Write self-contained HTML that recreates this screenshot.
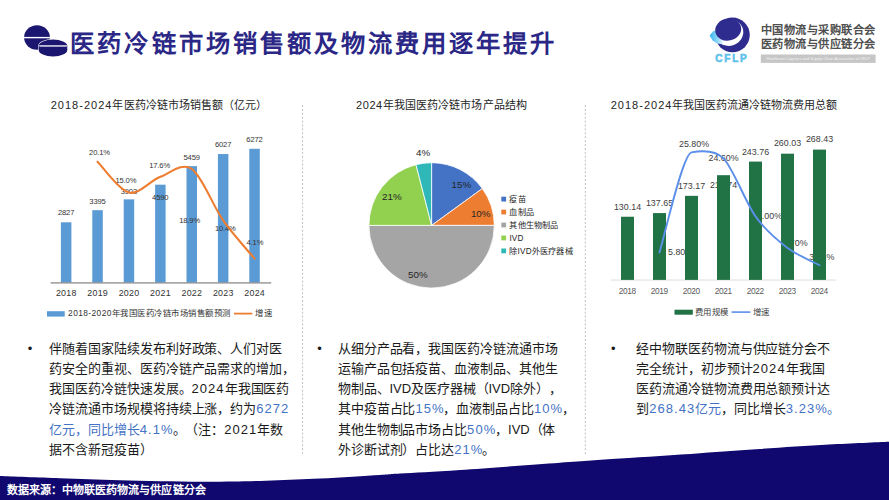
<!DOCTYPE html>
<html lang="zh-CN">
<head>
<meta charset="utf-8">
<title>医药冷链市场销售额及物流费用逐年提升</title>
<style>
html,body{margin:0;padding:0;}
body{width:889px;height:500px;position:relative;overflow:hidden;background:#ffffff;font-family:"Liberation Sans", sans-serif;text-spacing-trim:space-all;font-kerning:none;}
.t{position:absolute;white-space:nowrap;margin:0;padding:0;}
svg{position:absolute;left:0;top:0;}
.hl{color:#4472C4;}
.n{letter-spacing:1.05px;}
</style>
</head>
<body>

<svg width="889" height="500" viewBox="0 0 889 500">
<defs><linearGradient id="tail" x1="0" y1="0" x2="1" y2="0"><stop offset="0" stop-color="#35B6EE"/><stop offset="0.55" stop-color="#8ED6F6"/><stop offset="1" stop-color="#ffffff"/></linearGradient></defs>
<path d="M0.00 476.00 C10.00 476.37 40.00 477.50 60.00 478.20 C80.00 478.90 96.67 479.62 120.00 480.20 C143.33 480.78 176.67 481.58 200.00 481.70 C223.33 481.82 240.00 481.42 260.00 480.90 C280.00 480.38 300.00 479.58 320.00 478.60 C340.00 477.62 366.67 475.83 380.00 475.00 C393.33 474.17 386.67 474.43 400.00 473.60 C413.33 472.77 433.33 471.80 460.00 470.00 C486.67 468.20 533.33 464.70 560.00 462.80 C586.67 460.90 596.67 460.20 620.00 458.60 C643.33 457.00 676.67 454.80 700.00 453.20 C723.33 451.60 738.50 450.43 760.00 449.00 C781.50 447.57 807.50 445.80 829.00 444.60 C850.50 443.40 879.00 442.27 889.00 441.80 L889 500 L0 500 Z" fill="#10086F"/>
<line x1="302.6" y1="105" x2="302.6" y2="454" stroke="#BFBFBF" stroke-width="1" stroke-dasharray="2 1.9"/>
<line x1="585.3" y1="105" x2="585.3" y2="454" stroke="#BFBFBF" stroke-width="1" stroke-dasharray="2 1.9"/>
<ellipse cx="37" cy="37.5" rx="12.9" ry="12.2" fill="#1B1670"/>
<rect x="24" y="36.9" width="26" height="1.4" fill="#ffffff"/>
<path d="M38.2 45.9 A14.8 6.8 0 0 1 67.8 45.9 L67.8 50.1 A14.8 6.8 0 0 1 38.2 50.1 Z" fill="#ffffff"/>
<path d="M38.7 45.9 A14.3 6.3 0 0 1 67.3 45.9 L67.3 50.1 A14.3 6.3 0 0 1 38.7 50.1 Z" fill="#1B1670"/>
<rect x="39.3" y="45.3" width="27.6" height="1.3" fill="#ffffff"/>
<circle cx="732.5" cy="34.9" r="17.3" fill="#2F2C8F"/>
<ellipse cx="729.2" cy="32.6" rx="14.2" ry="13.2" fill="#ffffff" transform="rotate(-20 729.2 32.6)"/>
<path d="M709.6 35.6 L713.8 30.6 L722 34.5 L724 44.5 L717 43.6 L712.6 40.6 Z" fill="url(#tail)"/>
<ellipse cx="728.2" cy="29.6" rx="13.1" ry="11.0" fill="#2F2C8F" transform="rotate(-12 728.2 29.6)"/>
<rect x="760.8" y="54.5" width="114.8" height="8.4" fill="#C6C6C6"/>
<rect x="60.90" y="222.29" width="10.50" height="60.31" fill="#5B9BD5"/>
<rect x="92.30" y="210.17" width="10.50" height="72.43" fill="#5B9BD5"/>
<rect x="123.70" y="199.34" width="10.50" height="83.26" fill="#5B9BD5"/>
<rect x="155.10" y="184.68" width="10.50" height="97.92" fill="#5B9BD5"/>
<rect x="186.50" y="166.14" width="10.50" height="116.46" fill="#5B9BD5"/>
<rect x="217.90" y="154.03" width="10.50" height="128.57" fill="#5B9BD5"/>
<rect x="249.30" y="148.80" width="10.50" height="133.80" fill="#5B9BD5"/>
<rect x="50.6" y="282.25" width="220.6" height="1.3" fill="#8C8C8C"/>
<rect x="47" y="311.2" width="17.7" height="5.4" fill="#5B9BD5"/>
<line x1="234" y1="313.6" x2="252.3" y2="313.6" stroke="#ED7D31" stroke-width="1.8"/>
<path d="M431.60 225.40 L431.60 162.70 A62.70 62.70 0 0 1 482.33 188.55 Z" fill="#4472C4" stroke="#ffffff" stroke-width="0.8" stroke-linejoin="round"/>
<path d="M431.60 225.40 L482.33 188.55 A62.70 62.70 0 0 1 494.30 225.40 Z" fill="#ED7D31" stroke="#ffffff" stroke-width="0.8" stroke-linejoin="round"/>
<path d="M431.60 225.40 L494.30 225.40 A62.70 62.70 0 0 1 368.90 225.40 Z" fill="#A5A5A5" stroke="#ffffff" stroke-width="0.8" stroke-linejoin="round"/>
<path d="M431.60 225.40 L368.90 225.40 A62.70 62.70 0 0 1 416.01 164.67 Z" fill="#92D050" stroke="#ffffff" stroke-width="0.8" stroke-linejoin="round"/>
<path d="M431.60 225.40 L416.01 164.67 A62.70 62.70 0 0 1 431.60 162.70 Z" fill="#30B7B8" stroke="#ffffff" stroke-width="0.8" stroke-linejoin="round"/>
<rect x="501.3" y="196.70" width="4.8" height="4.8" fill="#4472C4"/>
<rect x="501.3" y="209.65" width="4.8" height="4.8" fill="#ED7D31"/>
<rect x="501.3" y="222.60" width="4.8" height="4.8" fill="#A5A5A5"/>
<rect x="501.3" y="235.55" width="4.8" height="4.8" fill="#92D050"/>
<rect x="501.3" y="248.50" width="4.8" height="4.8" fill="#30B7B8"/>
<rect x="611" y="279.6" width="225" height="0.9" fill="#D9D9D9"/>
<rect x="674.5" y="309.7" width="18.3" height="5" fill="#217346"/>
<line x1="731.6" y1="312.1" x2="750.4" y2="312.1" stroke="#5B8FEA" stroke-width="1.6"/>
</svg>
<div class="t" style="left:70.30px;top:28.41px;font-size:24.3px;line-height:31.59px;color:#2B2786;font-weight:bold;letter-spacing:3.07px;">医药冷链市场销售额及物流费用逐年提升</div>
<div class="t" style="left:760.80px;top:23.02px;font-size:11.2px;line-height:14.56px;color:#4F4F4F;font-weight:bold;letter-spacing:0.48px;">中国物流与采购联合会</div>
<div class="t" style="left:760.80px;top:36.52px;font-size:11.2px;line-height:14.56px;color:#4F4F4F;font-weight:bold;letter-spacing:0.48px;">医药物流与供应链分会</div>
<div class="t" style="left:818.20px;transform:translateX(-50%);top:56.17px;font-size:3.9px;line-height:5.07px;color:#f4f4f4;">Healthcare Logistics and Supply Chain Association of CFLP</div>
<div class="t" style="left:731.88px;transform:translateX(-50%);top:51.90px;font-size:10.0px;line-height:13.0px;color:#5CC1EC;font-weight:bold;letter-spacing:1.75px;-webkit-text-stroke:0.55px #5CC1EC;">CFLP</div>
<div class="t" style="left:50.70px;top:98.25px;font-size:11px;line-height:14.3px;color:#262626;letter-spacing:0.05px;"><span style="letter-spacing:1.02px">2018-2024</span>年医药冷链市场销售额（亿元）</div>
<div class="t" style="left:356.00px;top:98.05px;font-size:11px;line-height:14.3px;color:#262626;letter-spacing:0.08px;"><span style="letter-spacing:0.58px">2024</span>年我国医药冷链市场产品结构</div>
<div class="t" style="left:610.70px;top:98.05px;font-size:11px;line-height:14.3px;color:#262626;letter-spacing:-0.05px;"><span style="letter-spacing:1.02px">2018-2024</span>年我国医药流通冷链物流费用总额</div>
<div class="t" style="left:66.08px;transform:translateX(-50%);top:208.46px;font-size:7.6px;line-height:9.88px;color:#333333;letter-spacing:-0.15px;">2827</div>
<div class="t" style="left:97.48px;transform:translateX(-50%);top:196.56px;font-size:7.6px;line-height:9.88px;color:#333333;letter-spacing:-0.15px;">3395</div>
<div class="t" style="left:128.88px;transform:translateX(-50%);top:186.86px;font-size:7.6px;line-height:9.88px;color:#333333;letter-spacing:-0.15px;">3903</div>
<div class="t" style="left:160.28px;transform:translateX(-50%);top:192.76px;font-size:7.6px;line-height:9.88px;color:#333333;letter-spacing:-0.15px;">4590</div>
<div class="t" style="left:191.68px;transform:translateX(-50%);top:152.56px;font-size:7.6px;line-height:9.88px;color:#333333;letter-spacing:-0.15px;">5459</div>
<div class="t" style="left:223.08px;transform:translateX(-50%);top:139.66px;font-size:7.6px;line-height:9.88px;color:#333333;letter-spacing:-0.15px;">6027</div>
<div class="t" style="left:254.47px;transform:translateX(-50%);top:135.06px;font-size:7.6px;line-height:9.88px;color:#333333;letter-spacing:-0.15px;">6272</div>
<div class="t" style="left:99.52px;transform:translateX(-50%);top:148.06px;font-size:7.6px;line-height:9.88px;color:#333333;letter-spacing:-0.15px;">20.1%</div>
<div class="t" style="left:125.92px;transform:translateX(-50%);top:176.36px;font-size:7.6px;line-height:9.88px;color:#333333;letter-spacing:-0.15px;">15.0%</div>
<div class="t" style="left:159.62px;transform:translateX(-50%);top:160.96px;font-size:7.6px;line-height:9.88px;color:#333333;letter-spacing:-0.15px;">17.6%</div>
<div class="t" style="left:189.62px;transform:translateX(-50%);top:216.26px;font-size:7.6px;line-height:9.88px;color:#333333;letter-spacing:-0.15px;">18.9%</div>
<div class="t" style="left:225.33px;transform:translateX(-50%);top:224.36px;font-size:7.6px;line-height:9.88px;color:#333333;letter-spacing:-0.15px;">10.4%</div>
<div class="t" style="left:254.93px;transform:translateX(-50%);top:238.36px;font-size:7.6px;line-height:9.88px;color:#333333;letter-spacing:-0.15px;">4.1%</div>
<div class="t" style="left:66.28px;transform:translateX(-50%);top:288.21px;font-size:8.9px;line-height:11.57px;color:#333333;letter-spacing:0.25px;">2018</div>
<div class="t" style="left:97.68px;transform:translateX(-50%);top:288.21px;font-size:8.9px;line-height:11.57px;color:#333333;letter-spacing:0.25px;">2019</div>
<div class="t" style="left:129.07px;transform:translateX(-50%);top:288.21px;font-size:8.9px;line-height:11.57px;color:#333333;letter-spacing:0.25px;">2020</div>
<div class="t" style="left:160.47px;transform:translateX(-50%);top:288.21px;font-size:8.9px;line-height:11.57px;color:#333333;letter-spacing:0.25px;">2021</div>
<div class="t" style="left:191.88px;transform:translateX(-50%);top:288.21px;font-size:8.9px;line-height:11.57px;color:#333333;letter-spacing:0.25px;">2022</div>
<div class="t" style="left:223.28px;transform:translateX(-50%);top:288.21px;font-size:8.9px;line-height:11.57px;color:#333333;letter-spacing:0.25px;">2023</div>
<div class="t" style="left:254.67px;transform:translateX(-50%);top:288.21px;font-size:8.9px;line-height:11.57px;color:#333333;letter-spacing:0.25px;">2024</div>
<div class="t" style="left:68.10px;top:308.04px;font-size:8.4px;line-height:10.92px;color:#333333;letter-spacing:0.50px;"><span style="letter-spacing:0.40px">2018-2020</span>年我国医药冷链市场销售额预测</div>
<div class="t" style="left:255.00px;top:308.04px;font-size:8.4px;line-height:10.92px;color:#333333;letter-spacing:0.50px;">增速</div>
<div class="t" style="left:461.40px;transform:translateX(-50%);top:179.23px;font-size:9.8px;line-height:12.74px;color:#262626;">15%</div>
<div class="t" style="left:480.70px;transform:translateX(-50%);top:207.83px;font-size:9.8px;line-height:12.74px;color:#262626;">10%</div>
<div class="t" style="left:417.80px;transform:translateX(-50%);top:269.43px;font-size:9.8px;line-height:12.74px;color:#262626;">50%</div>
<div class="t" style="left:391.90px;transform:translateX(-50%);top:191.23px;font-size:9.8px;line-height:12.74px;color:#262626;">21%</div>
<div class="t" style="left:423.20px;transform:translateX(-50%);top:146.93px;font-size:9.8px;line-height:12.74px;color:#262626;">4%</div>
<div class="t" style="left:509.40px;top:195.17px;font-size:8.2px;line-height:10.66px;color:#262626;letter-spacing:0.20px;">疫苗</div>
<div class="t" style="left:509.40px;top:208.12px;font-size:8.2px;line-height:10.66px;color:#262626;letter-spacing:0.20px;">血制品</div>
<div class="t" style="left:509.40px;top:221.07px;font-size:8.2px;line-height:10.66px;color:#262626;letter-spacing:0.20px;">其他生物制品</div>
<div class="t" style="left:509.40px;top:234.02px;font-size:8.2px;line-height:10.66px;color:#262626;letter-spacing:0.20px;">IVD</div>
<div class="t" style="left:509.40px;top:246.97px;font-size:8.2px;line-height:10.66px;color:#262626;letter-spacing:0.20px;">除IVD外医疗器械</div>
<div class="t" style="left:627.50px;transform:translateX(-50%);top:201.62px;font-size:8.9px;line-height:11.57px;color:#404040;">130.14</div>
<div class="t" style="left:659.50px;transform:translateX(-50%);top:197.52px;font-size:8.9px;line-height:11.57px;color:#404040;">137.65</div>
<div class="t" style="left:691.50px;transform:translateX(-50%);top:180.52px;font-size:8.9px;line-height:11.57px;color:#404040;">173.17</div>
<div class="t" style="left:723.50px;transform:translateX(-50%);top:179.52px;font-size:8.9px;line-height:11.57px;color:#404040;">215.74</div>
<div class="t" style="left:755.50px;transform:translateX(-50%);top:146.52px;font-size:8.9px;line-height:11.57px;color:#404040;">243.76</div>
<div class="t" style="left:787.50px;transform:translateX(-50%);top:137.72px;font-size:8.9px;line-height:11.57px;color:#404040;">260.03</div>
<div class="t" style="left:819.50px;transform:translateX(-50%);top:133.62px;font-size:8.9px;line-height:11.57px;color:#404040;">268.43</div>
<div class="t" style="left:694.00px;transform:translateX(-50%);top:139.41px;font-size:8.9px;line-height:11.57px;color:#404040;">25.80%</div>
<div class="t" style="left:723.50px;transform:translateX(-50%);top:152.81px;font-size:8.9px;line-height:11.57px;color:#404040;">24.60%</div>
<div class="t" style="left:767.00px;transform:translateX(-50%);top:210.81px;font-size:8.9px;line-height:11.57px;color:#404040;">13.00%</div>
<div class="t" style="left:680.60px;transform:translateX(-50%);top:247.31px;font-size:8.9px;line-height:11.57px;color:#404040;">5.80%</div>
<div class="t" style="left:795.00px;transform:translateX(-50%);top:238.22px;font-size:8.9px;line-height:11.57px;color:#404040;">6.70%</div>
<div class="t" style="left:821.80px;transform:translateX(-50%);top:251.82px;font-size:8.9px;line-height:11.57px;color:#404040;">3.23%</div>
<div class="t" style="left:627.30px;transform:translateX(-50%);top:286.31px;font-size:8.3px;line-height:10.79px;color:#595959;letter-spacing:-0.40px;">2018</div>
<div class="t" style="left:659.30px;transform:translateX(-50%);top:286.31px;font-size:8.3px;line-height:10.79px;color:#595959;letter-spacing:-0.40px;">2019</div>
<div class="t" style="left:691.30px;transform:translateX(-50%);top:286.31px;font-size:8.3px;line-height:10.79px;color:#595959;letter-spacing:-0.40px;">2020</div>
<div class="t" style="left:723.30px;transform:translateX(-50%);top:286.31px;font-size:8.3px;line-height:10.79px;color:#595959;letter-spacing:-0.40px;">2021</div>
<div class="t" style="left:755.30px;transform:translateX(-50%);top:286.31px;font-size:8.3px;line-height:10.79px;color:#595959;letter-spacing:-0.40px;">2022</div>
<div class="t" style="left:787.30px;transform:translateX(-50%);top:286.31px;font-size:8.3px;line-height:10.79px;color:#595959;letter-spacing:-0.40px;">2023</div>
<div class="t" style="left:819.30px;transform:translateX(-50%);top:286.31px;font-size:8.3px;line-height:10.79px;color:#595959;letter-spacing:-0.40px;">2024</div>
<div class="t" style="left:695.00px;top:307.44px;font-size:8.4px;line-height:10.92px;color:#404040;letter-spacing:0.30px;">费用规模</div>
<div class="t" style="left:752.70px;top:307.44px;font-size:8.4px;line-height:10.92px;color:#404040;letter-spacing:0.30px;">增速</div>
<div class="t" style="left:30.00px;transform:translateX(-50%);top:340.85px;font-size:13px;line-height:16.9px;color:#1a1a1a;">•</div>
<div class="t" style="left:49.30px;top:340.85px;font-size:13px;line-height:16.9px;color:#1a1a1a;letter-spacing:-0.07px;">伴随着国家陆续发布利好政策、人们对医</div>
<div class="t" style="left:49.30px;top:361.02px;font-size:13px;line-height:16.9px;color:#1a1a1a;letter-spacing:-0.07px;">药安全的重视、医药冷链产品需求的增加，</div>
<div class="t" style="left:49.30px;top:381.19px;font-size:13px;line-height:16.9px;color:#1a1a1a;letter-spacing:-0.07px;">我国医药冷链快速发展。<span class="n">2024</span>年我国医药</div>
<div class="t" style="left:49.30px;top:401.36px;font-size:13px;line-height:16.9px;color:#1a1a1a;letter-spacing:-0.07px;">冷链流通市场规模将持续上涨，约为<span class="hl"><span class="n">6272</span></span></div>
<div class="t" style="left:49.30px;top:421.53px;font-size:13px;line-height:16.9px;color:#1a1a1a;letter-spacing:-0.07px;"><span class="hl">亿元，同比增长<span class="n">4.1</span>%</span>。（注：<span class="n">2021</span>年数</div>
<div class="t" style="left:49.30px;top:441.70px;font-size:13px;line-height:16.9px;color:#1a1a1a;letter-spacing:-0.07px;">据不含新冠疫苗）</div>
<div class="t" style="left:319.60px;transform:translateX(-50%);top:340.85px;font-size:13px;line-height:16.9px;color:#1a1a1a;">•</div>
<div class="t" style="left:337.80px;top:340.85px;font-size:13px;line-height:16.9px;color:#1a1a1a;letter-spacing:-0.07px;">从细分产品看，我国医药冷链流通市场</div>
<div class="t" style="left:337.80px;top:361.02px;font-size:13px;line-height:16.9px;color:#1a1a1a;letter-spacing:-0.07px;">运输产品包括疫苗、血液制品、其他生</div>
<div class="t" style="left:337.80px;top:381.19px;font-size:13px;line-height:16.9px;color:#1a1a1a;letter-spacing:-0.07px;">物制品、IVD及医疗器械（IVD除外），</div>
<div class="t" style="left:337.80px;top:401.36px;font-size:13px;line-height:16.9px;color:#1a1a1a;letter-spacing:-0.07px;">其中疫苗占比<span class="hl"><span class="n">15</span>%</span>，血液制品占比<span class="hl"><span class="n">10</span>%</span>，</div>
<div class="t" style="left:337.80px;top:421.53px;font-size:13px;line-height:16.9px;color:#1a1a1a;letter-spacing:-0.07px;">其他生物制品市场占比<span class="hl"><span class="n">50</span>%</span>，IVD（体</div>
<div class="t" style="left:337.80px;top:441.70px;font-size:13px;line-height:16.9px;color:#1a1a1a;letter-spacing:-0.07px;">外诊断试剂）占比达<span class="hl"><span class="n">21</span>%</span>。</div>
<div class="t" style="left:613.30px;transform:translateX(-50%);top:340.85px;font-size:13px;line-height:16.9px;color:#1a1a1a;">•</div>
<div class="t" style="left:636.20px;top:340.85px;font-size:13px;line-height:16.9px;color:#1a1a1a;letter-spacing:-0.07px;">经中物联医药物流与供应链分会不</div>
<div class="t" style="left:636.20px;top:361.02px;font-size:13px;line-height:16.9px;color:#1a1a1a;letter-spacing:-0.07px;">完全统计，初步预计<span class="n">2024</span>年我国</div>
<div class="t" style="left:636.20px;top:381.19px;font-size:13px;line-height:16.9px;color:#1a1a1a;letter-spacing:-0.07px;">医药流通冷链物流费用总额预计达</div>
<div class="t" style="left:636.20px;top:401.36px;font-size:13px;line-height:16.9px;color:#1a1a1a;letter-spacing:-0.07px;">到<span class="hl"><span class="n">268.43</span>亿元</span>，同比增长<span class="hl"><span class="n">3.23</span>%。</span></div>
<div class="t" style="left:6.80px;top:483.05px;font-size:11px;line-height:14.3px;color:#ffffff;font-weight:bold;letter-spacing:0.05px;">数据来源：中物联医药物流与供应链分会</div>
<svg width="889" height="500" viewBox="0 0 889 500">
<path d="M97.55 161.70 C102.57 166.64 118.90 190.16 128.95 192.59 C139.00 195.01 150.30 180.62 160.35 176.84 C170.40 173.06 181.70 161.99 191.75 168.97 C201.80 175.94 213.10 206.10 223.15 220.45 C233.20 234.79 249.53 252.50 254.55 258.60" fill="none" stroke="#ED7D31" stroke-width="2.1" stroke-linecap="round"/>
<rect x="621.00" y="216.73" width="13.00" height="63.17" fill="#217346"/>
<rect x="653.00" y="213.08" width="13.00" height="66.82" fill="#217346"/>
<rect x="685.00" y="195.84" width="13.00" height="84.06" fill="#217346"/>
<rect x="717.00" y="175.18" width="13.00" height="104.72" fill="#217346"/>
<rect x="749.00" y="161.58" width="13.00" height="118.32" fill="#217346"/>
<rect x="781.00" y="153.68" width="13.00" height="126.22" fill="#217346"/>
<rect x="813.00" y="149.60" width="13.00" height="130.30" fill="#217346"/>
<path d="M659.50 252.40 C663.98 238.40 682.54 153.98 691.50 152.40 C700.46 150.82 714.54 149.44 723.50 158.40 C732.46 167.36 746.54 203.87 755.50 216.40 C764.46 228.93 778.54 241.06 787.50 247.90 C796.46 254.74 815.02 262.82 819.50 265.25" fill="none" stroke="#5B8FEA" stroke-width="1.9" stroke-linecap="round"/>
</svg>
</body>
</html>
